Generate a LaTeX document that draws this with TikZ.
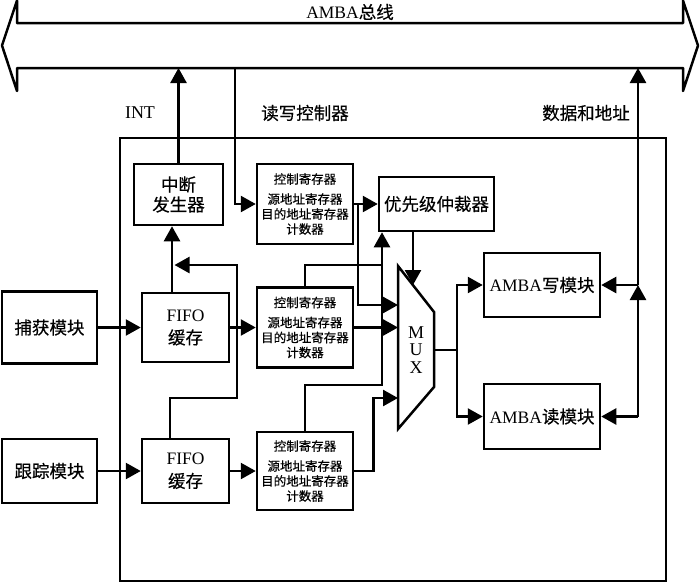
\documentclass[tikz,border=0pt]{standalone}
\usepackage{fontspec}
\setmainfont{Liberation Serif}
\newfontfamily\cjk[FakeBold=0.4]{Noto Sans CJK SC}
\usetikzlibrary{arrows.meta,calc}
\tikzset{
  ln/.style={line width=2.5pt},
  arr/.style={line width=2.5pt,-{Triangle[length=15pt,width=16pt]}},
  blk/.style={draw, line width=2.5pt, inner sep=1pt, align=center},
  cbig/.style={font=\cjk\fontsize{17.5}{20}\selectfont},
  lbig/.style={font=\fontsize{17.5}{23}\selectfont},
  reg/.style={font=\cjk\fontsize{12.5}{15}\selectfont},
  regbox/.style={blk, reg, minimum width=96pt, minimum height=80pt},
}
\begin{document}
\begin{tikzpicture}[x=1pt,y=-1pt]
\useasboundingbox (0,0) rectangle (700,584);
% bus
\draw[ln, line join=round] (17,0.5) -- (2,45.5) -- (17,91) -- (17,68) -- (683,68) -- (683,91) -- (698,45.5) -- (683,0.5) -- (683,23) -- (17,23) -- cycle;
\node[lbig] (busl) at (350,12) {AMBA\cjk 总线};
% labels
\node[font=\fontsize{18}{20}\selectfont] (lint) at (140,113) {INT};
\node[cbig] (lrw) at (305,113) {读写控制器};
\node[cbig] (lda) at (586,113) {数据和地址};
% frame
\node[draw, ln, minimum width=546pt, minimum height=443pt] (frame) at (393,359.5) {};
% blocks
\node[blk, cbig, minimum width=89pt, minimum height=61pt] (intg) at (178.5,194.5) {中断\\发生器};
\node[regbox] (r1) at (305,204) {控制寄存器\\[5pt]源地址寄存器\\目的地址寄存器\\计数器};
\node[regbox] (r2) at (305,327.5) {控制寄存器\\[5pt]源地址寄存器\\目的地址寄存器\\计数器};
\node[regbox, minimum height=78pt] (r3) at (305,471) {控制寄存器\\[5pt]源地址寄存器\\目的地址寄存器\\计数器};
\node[blk, cbig, minimum width=115pt, minimum height=54pt] (arb) at (436.5,204) {优先级仲裁器};
\node[blk, cbig, minimum width=95pt, minimum height=72pt] (cap) at (49.5,327.5) {捕获模块};
\node[blk, cbig, minimum width=95pt, minimum height=64pt] (trk) at (49.5,471) {跟踪模块};
\node[blk, lbig, minimum width=87pt, minimum height=69pt] (fifo1) at (185.5,327.5) {FIFO\\\cjk 缓存};
\node[blk, lbig, minimum width=87pt, minimum height=64pt] (fifo2) at (185.5,471) {FIFO\\\cjk 缓存};
\node[blk, lbig, minimum width=116pt, minimum height=64pt] (wr) at (542,285) {AMBA\cjk 写模块};
\node[blk, lbig, minimum width=116pt, minimum height=65pt] (rd) at (542,416.5) {AMBA\cjk 读模块};
% MUX
\draw[ln] (398,266) -- (434,312) -- (434,387) -- (398,429) -- cycle;
\node[font=\fontsize{18}{17.5}\selectfont, align=center] (muxt) at (416,350) {M\\U\\X};
\coordinate (mi1) at (398,305);
\coordinate (mi2) at (398,327.5);
\coordinate (mi3) at (398,398);
\coordinate (mtop) at (413,285);
\coordinate (mo) at (434,350);
% bus connections
\coordinate (bI) at (178.5,68);
\coordinate (bR) at (235,68);
\coordinate (bD) at (638,68);
\coordinate (jW) at (638,285);
\coordinate (jR) at (638,416.5);
\draw[arr] (intg.north) -- (bI);
\draw[arr] (bR) |- (r1.west);
\draw[arr] (jW) -- (bD);
\draw[arr] (jW) -- (wr.east);
\draw[arr] (jR) -- (jW);
\draw[arr] (jR) -- (rd.east);
% inputs
\draw[arr] (cap.east) -- (fifo1.west);
\draw[arr] (trk.east) -- (fifo2.west);
\draw[arr] (fifo1.east) -- (r2.west);
\draw[arr] (fifo2.east) -- (r3.west);
\draw[arr] ([xshift=-13.5pt]fifo1.north) -- ([xshift=-6.5pt]intg.south);
\coordinate (tA) at (174.5,265);
\draw[arr] ([xshift=-15.5pt]fifo2.north) -- ++(0,-40) -| (237,265) -- (tA);
% registers
\draw[arr] (r1.east) -- (arb.west);
\coordinate (t1) at (358,204);
\draw[arr] (t1) |- (mi1);
\draw[arr] (r2.east) -- (mi2);
\coordinate (vA) at (382,265);
\coordinate (vB) at (382,385);
\draw[ln] (r2.north) |- (vA);
\draw[arr] (r3.north) |- (vB) -- (arb.south -| vB);
\draw[arr] (r3.east) -- ++(19,0) |- (mi3);
\draw[arr] (arb.south -| mtop) -- (mtop);
% outputs
\coordinate (split) at (457,350);
\draw[ln] (mo) -- (split);
\draw[arr] (split) |- (wr.west);
\draw[arr] (split) |- (rd.west);
\end{tikzpicture}
\end{document}
